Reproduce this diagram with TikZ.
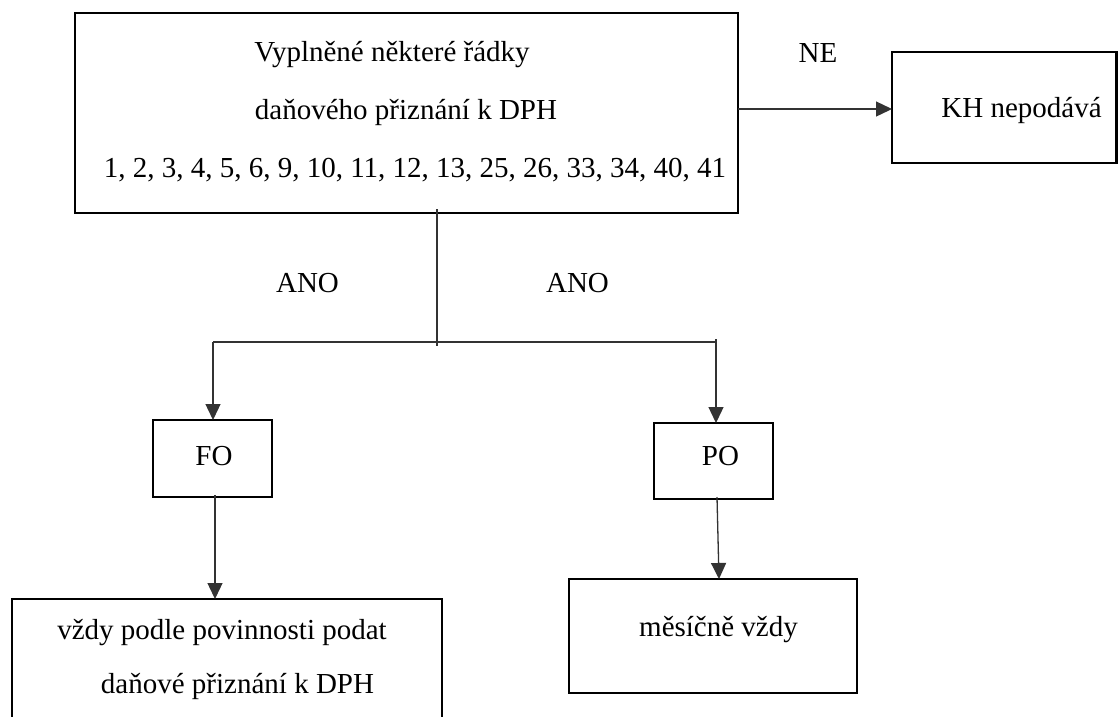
\documentclass[tikz,border=0pt]{standalone}
\usepackage{fontspec}
\setmainfont{Liberation Serif}
\usetikzlibrary{arrows.meta}

\begin{document}
\begin{tikzpicture}[x=1pt, y=-1pt,
  box/.style={draw=black, line width=2.7pt, inner sep=0pt, outer sep=0pt},
  txt/.style={anchor=base, inner sep=0pt, font=\fontsize{29}{34}\selectfont},
  conn/.style={draw=black!80, line width=1.3pt},
  arr/.style={conn, -{Triangle[length=16pt, width=15pt]}}]

% canvas
\fill[white] (0,0) rectangle (1118,716);
\path[use as bounding box, clip] (0,0) rectangle (1118,716);

% boxes
\node[box, minimum width=663pt, minimum height=200pt] (main) at (406.5,113) {};
\node[box, minimum width=224.5pt, minimum height=111pt] (kh) at (1004.25,107.5) {};
\node[box, minimum width=119pt, minimum height=77pt] (fo) at (212.5,458.5) {};
\node[box, minimum width=119pt, minimum height=76pt] (po) at (713.5,461) {};
\node[box, minimum width=430pt, minimum height=131pt] (low) at (227,664.5) {};
\node[box, minimum width=288pt, minimum height=114pt] (mes) at (713,636) {};

% box texts
\node[txt] (m1) at (392,61) {Vyplněné některé řádky};
\node[txt] (m2) at (406,119) {daňového přiznání k DPH};
\node[txt] (m3) at (415,177) {1, 2, 3, 4, 5, 6, 9, 10, 11, 12, 13, 25, 26, 33, 34, 40, 41};
\node[txt] (khtext) at (1021.5,117) {KH nepodává};
\node[txt] (fotext) at (214,465) {FO};
\node[txt] (potext) at (720.5,465) {PO};
\node[txt] (low1) at (222,639) {vždy podle povinnosti podat};
\node[txt] (low2) at (237.5,693) {daňové přiznání k DPH};
\node[txt] (mestext) at (718.5,636) {měsíčně vždy};

% branch labels
\node[txt] (ne) at (818,62) {NE};
\node[txt] (ano1) at (307.5,292) {ANO};
\node[txt] (ano2) at (577.5,292) {ANO};

% branching points
\coordinate (stem) at (437,209);
\coordinate (fork) at (437,346);
\coordinate (lft) at (213,342);
\coordinate (rgt) at (716,342);

% connectors
\draw[arr] (main.east |- 0,109) -- (kh.west |- 0,109);
\draw[conn] (stem) -- (fork);
\draw[conn] (lft) -- (rgt);
\draw[arr] (lft) -- (lft |- fo.north);
\draw[arr] ([yshift=3pt]rgt) -- (rgt |- po.north);
\draw[arr] ([xshift=2.5pt, yshift=2pt]fo.south) -- ([xshift=-12pt]low.north);
\draw[arr] ([xshift=3.5pt, yshift=2pt]po.south) -- ([xshift=6pt]mes.north);
\end{tikzpicture}
\end{document}
